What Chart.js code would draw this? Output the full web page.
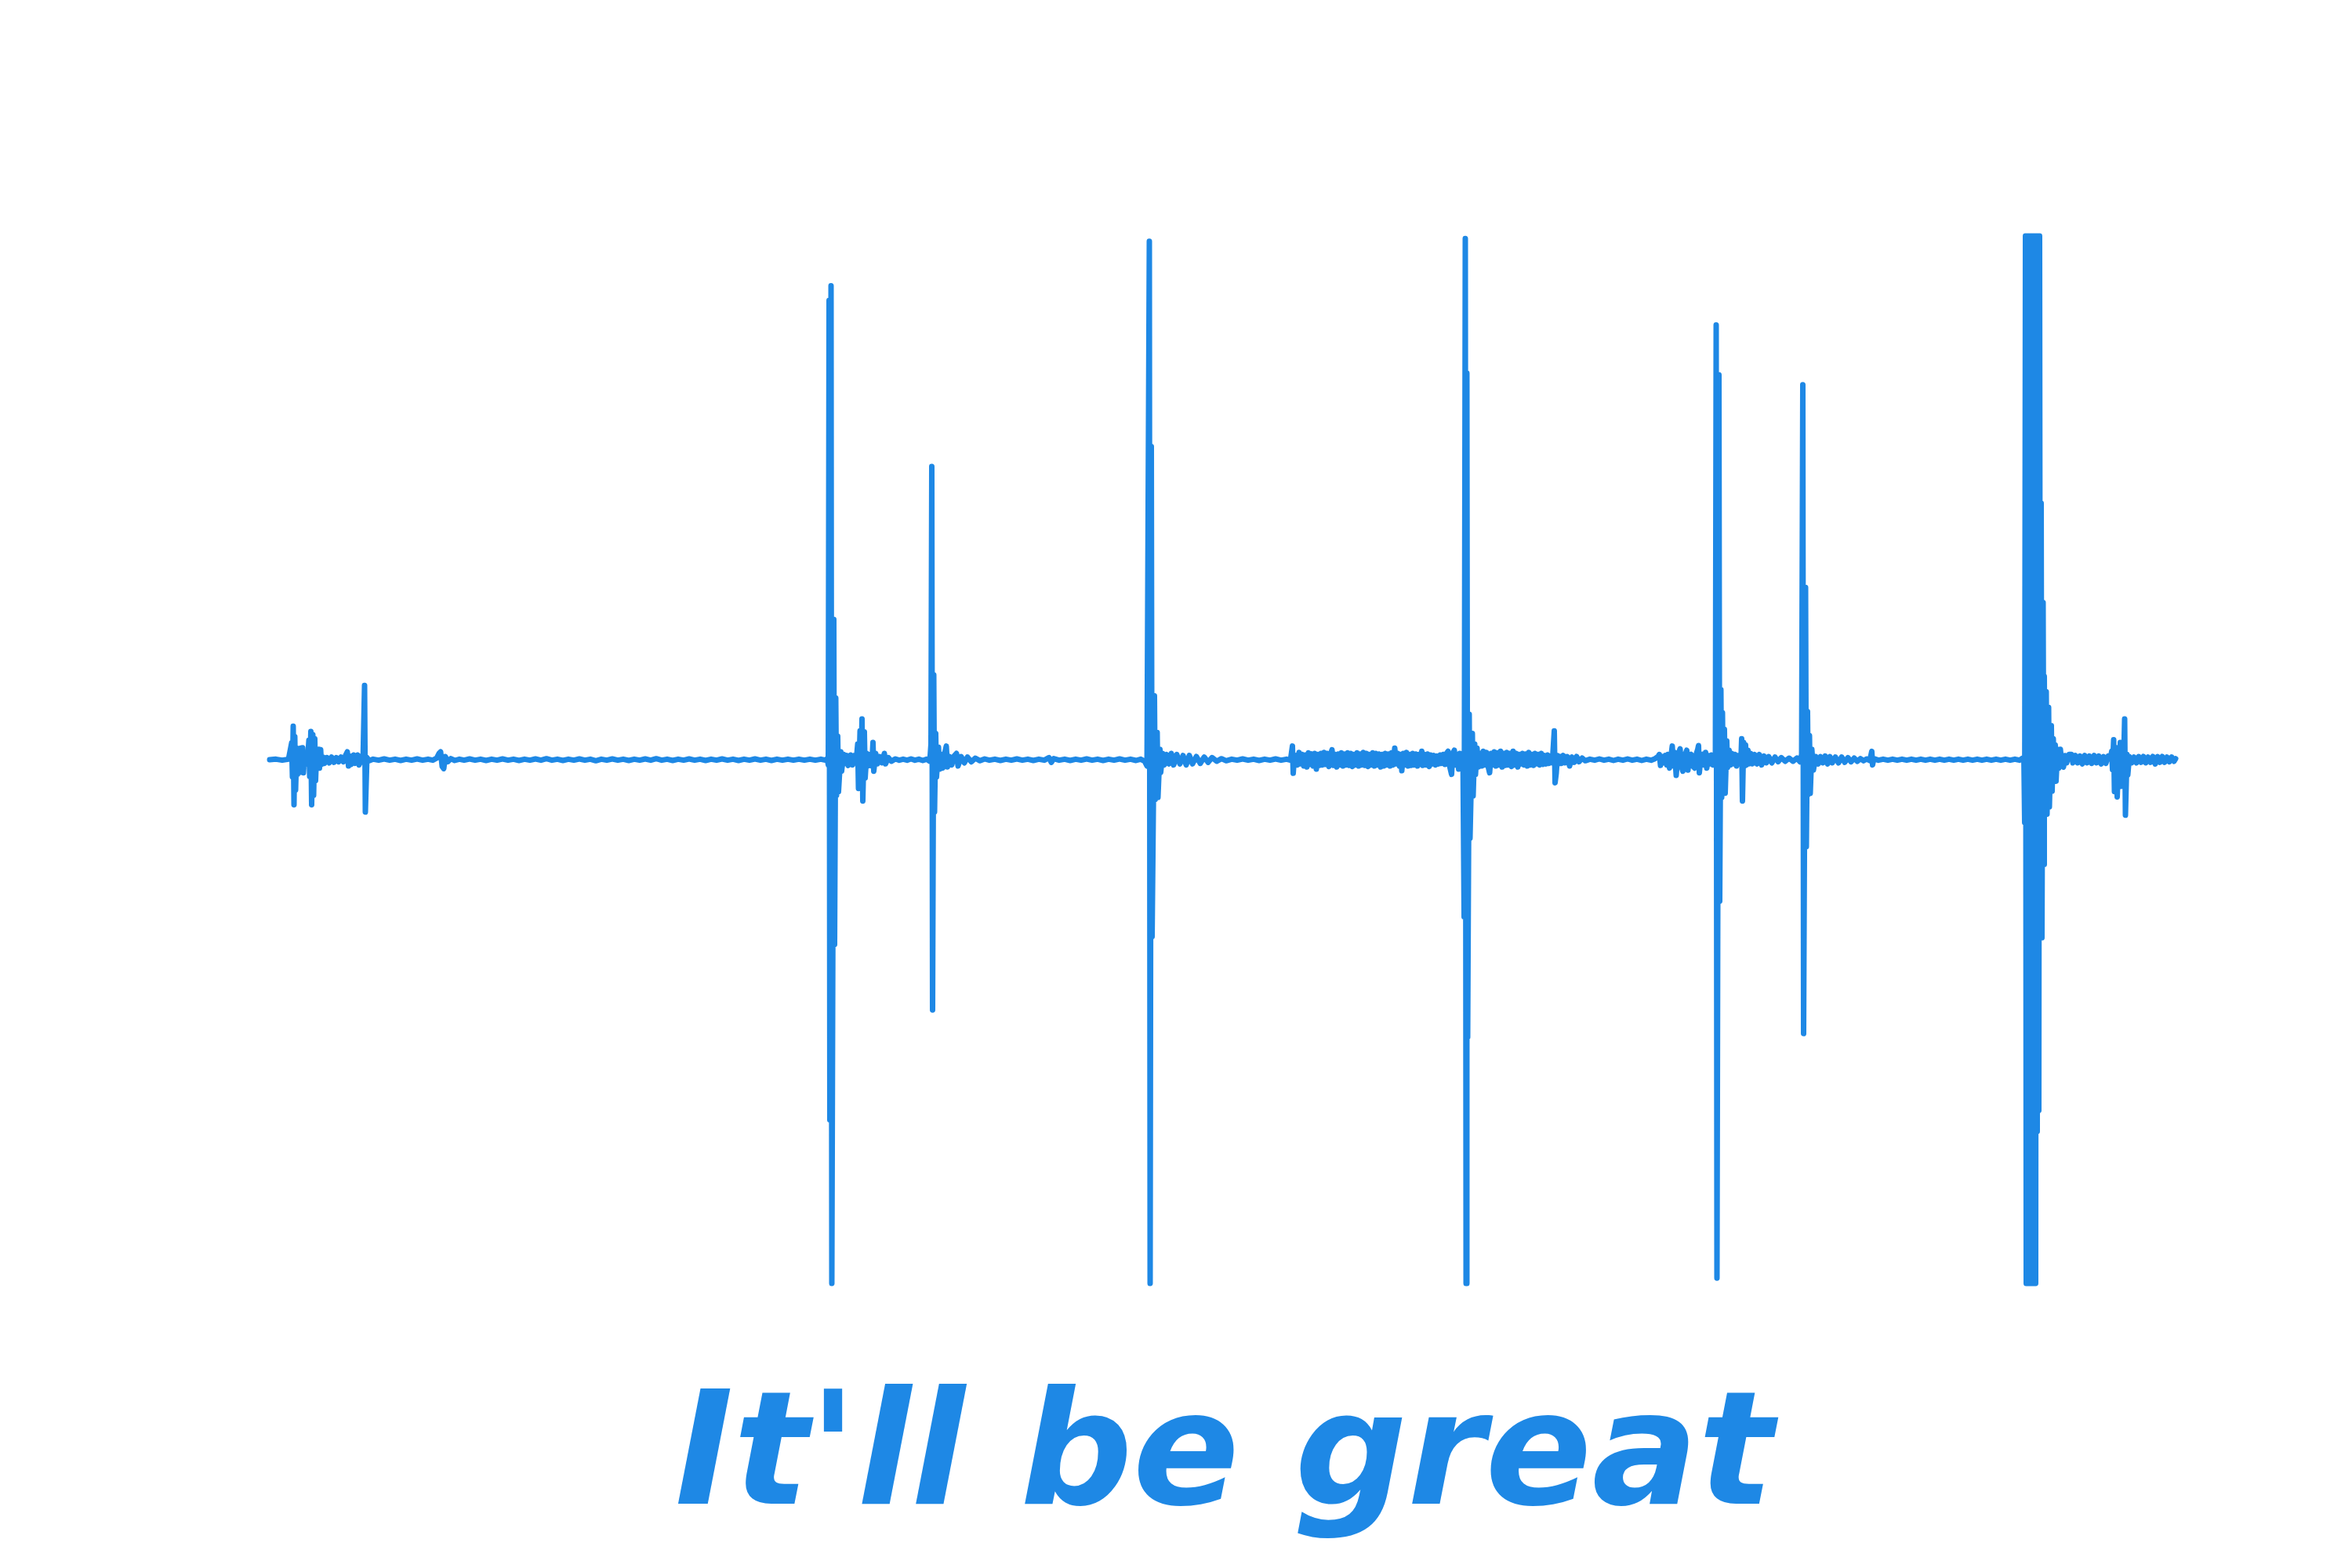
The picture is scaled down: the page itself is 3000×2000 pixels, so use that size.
<!DOCTYPE html>
<html>
<head>
<meta charset="utf-8">
<title>It'll be great</title>
<script src="https://cdn.jsdelivr.net/npm/chart.js@4"></script>
<style>
  html, body { margin: 0; padding: 0; background: #ffffff; }
  #wrap { width: 3000px; height: 2000px; }
  canvas { display: block; }
</style>
</head>
<body>
<div id="wrap"><canvas id="c" width="3000" height="2000"></canvas></div>
<script>
// ---- DATA: [time (ms), amplitude] pairs ----
const titleText = "It'll be great";

const introClicks = [
  [0,0],[8,0.001],[16,-0.001],[24,0.001],
  [28,0.032],[29,-0.033],[30,0.064],[31,-0.086],[32,0.044],[33,-0.058],[34.5,0.022],[35.5,-0.028],
  [37,0.018],[38,-0.02],[39.5,0.022],[40.5,-0.024],[42,0.023],[43,-0.025],[44.5,0.01],[45.5,-0.009],
  [47,0.007],[48,-0.006],
  [50,0.037],[51,-0.032],[52.5,0.054],[53.5,-0.086],[55,0.048],[56,-0.068],[57.5,0.04],[58.5,-0.04],
  [60,0.018],[61,-0.013],[62.5,0.02],[63.5,-0.016],[65,0.019],[66,-0.009],[68,0.005],[70,-0.007],
  [73,0.004],[76,-0.006],[79,0.005],[82,-0.005],[85,0.004],[88,-0.004],[91,0.005],[94,-0.004],
  [97,0.009],[99,0.015],[100.5,-0.012],[102,0.007],[104,-0.009],[107,0.009],[109,-0.007],[112,0.009],
  [114,-0.01],[117,0.007],[119,-0.005],
  [121,0.142],[122,-0.1],[124,0.004],[127,-0.002]
];

const quietGap1 = [
  [132,0.001],[139,-0.001],[146,0.0015],[153,-0.001],[160,0.001],[167,-0.0015],[174,0.001],[181,-0.001],
  [188,0.0015],[195,-0.001],[202,0.001],[208,-0.001],[213,0.003],[216,0.012],[218,0.015],[220,-0.013],
  [222,-0.017],[224,0.006],[227,-0.004],[231,0.002],[236,-0.0015],[242,0.001],[248,-0.001],[255,0.0015],
  [262,-0.001],[269,0.001],[276,-0.0015],[283,0.001],[290,-0.001],[297,0.0015],[304,-0.001],[311,0.001],
  [318,-0.0015],[325,0.001],[332,-0.001],[339,0.0015],[346,-0.001],[353,0.002],[360,-0.001],[367,0.001],
  [374,-0.0015],[381,0.001],[388,-0.001],[395,0.0015],[402,-0.001],[409,0.001],[416,-0.002],[423,0.001],
  [430,-0.001],[437,0.0015],[444,-0.001],[451,0.001],[458,-0.0015],[465,0.001],[472,-0.001],[479,0.0015],
  [486,-0.001],[493,0.002],[500,-0.001],[507,0.001],[514,-0.0015],[521,0.001],[528,-0.001],[535,0.0015],
  [542,-0.001],[549,0.001],[556,-0.0015],[563,0.001],[570,-0.001],[577,0.0015],[584,-0.001],[591,0.001],
  [598,-0.0015],[605,0.001],[612,-0.001],[619,0.0015],[626,-0.001],[633,0.001],[640,-0.0015],[647,0.001],
  [654,-0.001],[661,0.001],[668,-0.001],[675,0.001],[682,-0.001],[689,0.001],[696,-0.001],[703,0.001],
  [709,-0.001]
];

const spikeA = [
  [711,0.002],[712.5,-0.01],[713.5,0.877],[714.5,-0.688],[716,0.905],[717,-1.0],[719.5,0.268],[720.5,-0.353],
  [722,0.118],[723,-0.068],[724.5,0.045],[725.5,-0.061],[728.5,0.015],[729.5,-0.022],[732,0.01],[733,-0.008],
  [736,0.008],[738,-0.011],[741,0.009],[743.5,-0.01],[746,0.008],[748,-0.005],
  [750,0.03],[751,-0.055],[753,0.055],[754,-0.04],[755.5,0.078],[756.5,-0.079],[758.5,0.053],[759.5,-0.035],
  [761.5,0.012],[763,-0.012],[766,0.01],[768,-0.012],[769.5,0.033],[770.5,-0.022],[773,0.012],[775,-0.008],
  [778,0.006],[781,-0.006],[784,0.012],[785.5,-0.008],[789,0.004],[793,-0.003],[798,0.0015],[803,-0.001]
];

const spikeB = [
  [808,0.001],[813,-0.001],[818,0.0015],[823,-0.001],[828,0.001],[833,-0.0015],[838,0.001],[842,-0.003],
  [843.5,0.03],[844.5,0.56],[845.5,-0.478],[847,0.162],[848,-0.1],[849.5,0.05],[850.5,-0.033],
  [853,0.024],[854.5,-0.018],[857,0.01],[858.5,-0.016],[861,0.012],[863,0.026],[864.5,-0.014],[867,0.006],
  [870,-0.01],[873,0.007],[876,0.012],[878,-0.012],[882,0.006],[886,-0.006],[890,0.005],[895,-0.004],
  [900,0.003],[906,-0.002],[912,0.0015]
];

const quietGap2 = [
  [918,-0.001],[925,0.001],[932,-0.0015],[939,0.001],[946,-0.001],[953,0.0015],[960,-0.001],[967,0.001],
  [974,-0.0015],[981,0.001],[988,-0.001],[994,0.004],[997,-0.005],[1000,0.002],[1007,-0.001],[1014,0.001],
  [1021,-0.0015],[1028,0.001],[1035,-0.001],[1042,0.0015],[1049,-0.001],[1056,0.001],[1063,-0.0015],[1070,0.001],
  [1077,-0.001],[1084,0.0015],[1091,-0.001],[1098,0.001],[1105,-0.0015],[1111,0.001],[1116,-0.003],[1119,-0.012]
];

const spikeC = [
  [1122,0.99],[1123,-1.0],[1124.5,0.598],[1125.5,-0.338],[1128.5,0.122],[1129.5,-0.076],
  [1132,0.052],[1133,-0.072],[1135.5,0.02],[1136.5,-0.024],[1139,0.012],[1141,-0.01],[1144,0.01],[1147,-0.008],
  [1150,0.012],[1153,-0.01],[1157,0.01],[1161,-0.008],[1165,0.008],[1169,-0.01],[1173,0.008],[1177,-0.008],
  [1182,0.006],[1187,-0.007],[1192,0.005],[1197,-0.005],[1202,0.004],[1208,-0.003],[1214,0.002],[1220,-0.002],
  [1227,0.001],[1234,-0.001],[1241,0.0015],[1248,-0.001],[1255,0.001],[1262,-0.0015],[1269,0.001],[1276,-0.001],
  [1283,0.0015],[1290,-0.001],[1297,0.001],[1302,-0.001]
];

const noiseBed = [
  [1304.5,0.026],[1305.5,-0.026],[1307,0.006],
  [1309,0.008],[1311,-0.01],[1313,0.014],[1315,-0.008],[1317,0.01],[1319,-0.012],[1321,0.009],[1323,-0.014],
  [1325,0.013],[1327,-0.009],[1329,0.011],[1331,-0.012],[1333,0.012],[1335,-0.018],[1337,0.01],[1339,-0.011],
  [1341,0.012],[1343,-0.01],[1345,0.014],[1347,-0.009],[1349,0.012],[1351,-0.013],[1353,0.01],[1355,0.019],
  [1357,-0.011],[1359,0.01],[1361,-0.014],[1363,0.011],[1365,-0.01],[1367,0.013],[1369,-0.012],[1371,0.011],
  [1373,-0.01],[1375,0.013],[1377,-0.011],[1379,0.012],[1381,-0.013],[1383,0.01],[1385,-0.01],[1387,0.013],
  [1389,-0.012],[1391,0.011],[1393,-0.01],[1395,0.014],[1397,-0.011],[1399,0.012],[1401,-0.013],[1403,0.01],
  [1405,-0.01],[1407,0.013],[1409,-0.012],[1411,0.012],[1413,-0.01],[1415,0.011],[1417,-0.014],[1419,0.01],
  [1421,-0.012],[1423,0.012],[1425,-0.01],[1427,0.011],[1429,-0.012],[1431,0.013],[1433,-0.01],[1435,0.022],
  [1437,-0.008],[1439,0.012],[1441,-0.012],[1443,0.01],[1444,-0.021],[1446,0.012],[1448,-0.01],[1450,0.014],
  [1452,-0.012],[1454,0.01],[1456,-0.011],[1458,0.012],[1460,-0.01],[1462,0.011],[1464,-0.012],[1466,0.01],
  [1468,-0.009],[1469.5,0.016],[1471,-0.011],[1473,0.01],[1475,-0.01],[1477,0.011],[1479,-0.013],[1481,0.009],
  [1483,-0.008],[1485,0.008],[1487,-0.01],[1489,0.007],[1491,-0.008],[1493,0.009],[1495,-0.007],[1497,0.01],
  [1499,-0.009],[1501,0.012],[1503,0.016],[1505,-0.012],[1507.5,-0.028],[1509,0.012],[1511,0.018],[1513,-0.01],
  [1515,0.009],[1516.5,-0.018],[1518,0.012],[1520,-0.012],[1522,0.008]
];

const spikeD = [
  [1523.5,-0.3],[1525,0.995],[1526,-1.0],[1527,0.738],[1528,-0.53],[1530,0.087],[1531,-0.15],
  [1534,0.05],[1535,-0.069],[1537,0.03],[1538,-0.028],[1540,0.022],[1541.5,-0.014],
  [1544,0.012],[1546,-0.012],[1548,0.016],[1550,-0.01],[1552,0.014],[1554,-0.012],[1556,-0.025],[1558,0.012],
  [1560,-0.01],[1562,0.015],[1564,-0.012],[1566,0.013],[1568,-0.01],[1570,0.016],[1572,-0.014],[1574,0.012],
  [1576,-0.011],[1578,0.014],[1580,-0.01],[1582,0.012],[1584,-0.013],[1586,0.016],[1588,-0.01],[1590,0.012],
  [1592,-0.014],[1594,0.01],[1596,-0.008],[1598,0.012],[1600,-0.01],[1602,0.011],[1604,-0.012],[1606,0.014],
  [1608,-0.01],[1610,0.01],[1612,-0.011],[1614,0.012],[1616,-0.008],[1618,0.01],[1620,-0.01],[1622,0.012],
  [1624,-0.009],[1626,0.008],[1628,-0.008],[1630,0.009],[1632,-0.007],[1634,0.007],[1636,-0.006]
];

const midClicks = [
  [1638.5,0.055],[1639.5,-0.044],[1641,-0.026],[1642.5,0.008],[1644,-0.008],[1646,0.006],[1648,-0.007],
  [1650,0.008],[1652,-0.006],[1655,0.006],[1658,-0.012],[1661,0.005],[1664,-0.005],[1667,0.006],[1670,-0.004],
  [1674,0.003],[1678,-0.002],
  [1684,0.001],[1690,-0.001],[1696,0.0015],[1702,-0.001],[1708,0.001],[1714,-0.0015],[1720,0.001],[1726,-0.001],
  [1732,0.0015],[1738,-0.001],[1744,0.001],[1750,-0.0015],[1756,0.001],[1762,-0.001],[1767,0.002],
  [1771,0.006],[1772.5,0.01],[1774,-0.011],[1776,0.006],[1778,-0.006],[1780,0.008],[1782,-0.01],[1783.5,0.01],
  [1785.5,-0.016],[1787.5,0.008],[1789,0.026],[1790.5,-0.012],[1792,0.014],[1794,-0.03],[1796,0.008],[1797.5,0.014],
  [1799,0.021],[1800.5,-0.012],[1802.5,-0.022],[1804.5,0.01],[1806,0.012],[1807.5,0.018],[1809,-0.02],[1811,0.006],
  [1813,0.01],[1815,-0.012],[1817.5,-0.016],[1819.5,0.01],[1821.5,0.02],[1822.5,0.027],[1823.5,-0.025],[1825.5,0.006],
  [1827.5,0.01],[1829.5,-0.01],[1831.5,0.014],[1833,-0.016],[1835,0.008],[1837,-0.008],[1839,0.009],[1841,-0.01],
  [1843,0.008]
];

const spikeE = [
  [1844,-0.01],[1845,0.83],[1846,-0.99],[1848.5,0.735],[1849.5,-0.27],[1851,0.134],[1852,-0.072],[1853,0.09],
  [1854,-0.06],[1855.5,0.058],[1856.5,-0.064],[1858.5,0.036],[1859.5,-0.015],[1861.5,0.018],[1863,-0.01],[1865,0.012],
  [1867,-0.008],[1869,0.01],[1871,-0.012],[1873,0.008],[1875,0.006],
  [1876.5,-0.005],[1877.5,0.04],[1878.5,-0.079],[1880,0.033],[1881,-0.012],[1882.5,0.028],[1883.5,-0.01],[1885.5,0.018],
  [1887,-0.008],[1889,0.012],[1891,-0.008],[1894,0.01],[1897,-0.008],[1900,0.01],[1903,-0.01],[1906,0.007],
  [1909,-0.006],[1912,0.006],[1916,-0.006],[1920,0.005],[1924,-0.004],[1928,0.004],[1933,-0.003],[1938,0.003],
  [1943,-0.003],[1948,0.003],[1952,-0.004]
];

const spikeF = [
  [1954,0.01],[1955.5,0.716],[1956.5,-0.523],[1959,0.329],[1960,-0.166],[1961.5,0.092],[1962.5,-0.066],[1964,0.046],
  [1965,-0.064],[1967,0.02],[1969,-0.02],[1972,0.006],[1975,-0.008],[1978,0.006],[1981,-0.006],[1984,0.007],
  [1987,-0.008],[1990,0.006],[1993,-0.006],[1997,0.005],[2001,-0.006],[2005,0.005],[2009,-0.005],[2013,0.004],
  [2017,-0.004],[2021,0.003],[2025,-0.003],[2029,0.002],[2033,-0.002],[2037,0.0015],[2041,-0.0015],
  [2043.5,0.016],[2044.5,-0.01],[2046,0.002]
];

const quietGap3 = [
  [2052,-0.001],[2058,0.001],[2064,-0.001],[2070,0.001],[2076,-0.001],[2082,0.001],[2088,-0.001],[2094,0.001],
  [2100,-0.001],[2106,0.001],[2112,-0.001],[2118,0.001],[2124,-0.001],[2130,0.001],[2136,-0.001],[2142,0.001],
  [2148,-0.001],[2154,0.001],[2160,-0.001],[2166,0.001],[2172,-0.001],[2178,0.001],[2184,-0.001],[2190,0.001],
  [2196,-0.001],[2202,0.001],[2208,-0.001],[2214,0.001],[2220,-0.001],[2226,0.001],[2232,-0.001],[2236,0.003]
];

const clipBurst = [
  [2237.5,0.004],[2238.5,-0.12],[2239.5,1.0],[2240.5,-1.0],[2241.5,1.0],[2242.5,-1.0],[2243.5,1.0],[2244.5,-1.0],
  [2245.5,1.0],[2246.5,-1.0],[2247.5,1.0],[2248.5,-1.0],[2249.5,1.0],[2250.5,-1.0],[2251.5,1.0],[2252.5,-1.0],
  [2253.5,1.0],[2254.5,-0.71],[2255.5,1.0],[2256.5,-0.67],[2257.5,1.0],[2258.5,-0.34],[2259.5,0.49],[2260.5,-0.34],
  [2262,0.3],[2263,-0.2],[2263.5,0.159],[2264.5,-0.1],[2266,0.13],[2267,-0.104],[2269,0.1],[2270,-0.09],
  [2272.5,0.065],[2273.5,-0.06],[2275,0.04],[2276,-0.04],[2277.5,0.028],[2278.5,-0.041],[2280.5,0.02],[2282,-0.016],
  [2284,0.02],[2286,-0.01],[2288,-0.014],[2290,0.008],[2292,-0.006],[2295,0.01],[2298,0.01],[2300,-0.006],
  [2303,0.008],[2306,-0.006],[2309,0.007],[2312,-0.008],[2315,0.008],[2318,-0.006],[2321,0.007],[2324,-0.007],
  [2327,0.008],[2330,-0.006],[2333,0.007],[2336,-0.008],[2339,0.006],[2342,-0.007],[2345,0.007]
];

const outro = [
  [2348,0.004],[2349.5,0.016],[2350.5,-0.019],[2352,0.038],[2353,-0.061],[2355.5,0.023],[2356.5,-0.071],
  [2358.5,0.015],[2359.5,-0.03],[2360.5,0.033],[2361.5,-0.051],[2363.5,0.02],[2364.5,-0.02],[2366,0.078],
  [2367,-0.106],[2369,0.01],[2370,-0.029],[2372,0.006],[2375,-0.006],[2378,0.005],[2381,-0.006],[2384,0.006],
  [2387,-0.005],[2390,0.006],[2393,-0.006],[2396,0.005],[2399,-0.005],[2402,0.006],[2405,-0.008],[2408,0.006],
  [2411,-0.005],[2414,0.006],[2417,-0.005],[2420,0.005],[2423,-0.004],[2426,0.005],[2429,-0.003],[2431,0.002]
];

const segments = [introClicks, quietGap1, spikeA, spikeB, quietGap2, spikeC, noiseBed,
                  spikeD, midClicks, spikeE, spikeF, quietGap3, clipBurst, outro];

// ---- build dataset ----
const points = [];
segments.forEach(seg => seg.forEach(([t, a]) => points.push({ x: t, y: a })));

const WAVE_COLOR = '#1E88E5';

const bottomTitle = {
  id: 'bottomTitle',
  afterDraw(chart) {
    const { ctx, chartArea } = chart;
    ctx.save();
    ctx.font = 'italic bold 201px "DejaVu Sans"';
    ctx.fillStyle = WAVE_COLOR;
    ctx.textAlign = 'center';
    ctx.textBaseline = 'alphabetic';
    ctx.fillText(titleText, (chartArea.left + chartArea.right) / 2 + 2, chartArea.bottom + 281);
    ctx.restore();
  }
};

new Chart(document.getElementById('c'), {
  type: 'line',
  data: {
    datasets: [{
      data: points,
      borderColor: WAVE_COLOR,
      borderWidth: 7,
      borderCapStyle: 'round',
      borderJoinStyle: 'round',
      pointRadius: 0,
      tension: 0,
      fill: false,
      clip: false
    }]
  },
  options: {
    responsive: false,
    devicePixelRatio: 1,
    animation: false,
    layout: { padding: { left: 344, right: 225, top: 301, bottom: 363 } },
    scales: {
      x: { type: 'linear', min: 0, max: 2431, display: false },
      y: { type: 'linear', min: -1, max: 1, display: false }
    },
    plugins: {
      legend: { display: false },
      tooltip: { enabled: false },
      title: { display: false }
    }
  },
  plugins: [bottomTitle]
});
</script>
</body>
</html>
